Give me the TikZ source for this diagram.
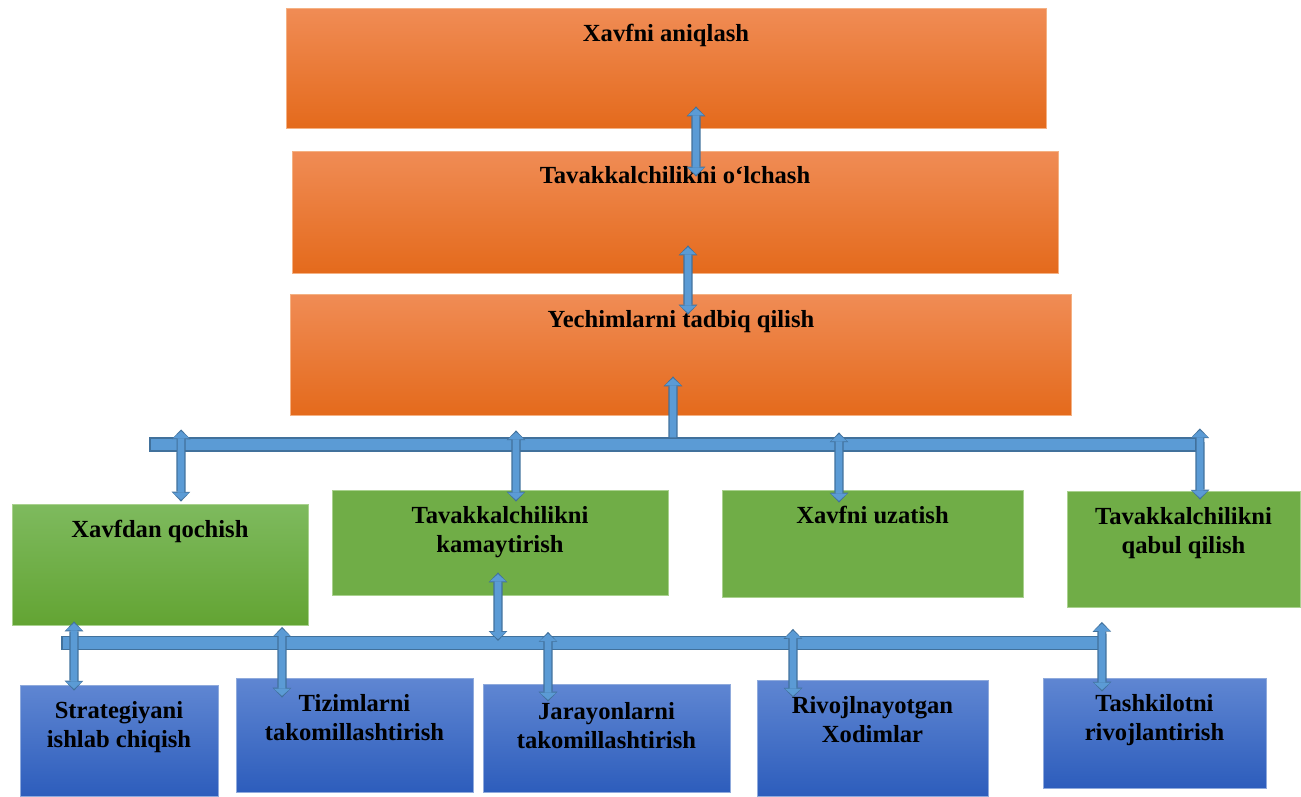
\documentclass[tikz,border=0pt]{standalone}
\usepackage{fontspec}
\setmainfont{Liberation Serif}
\usepackage{tikz}
\usetikzlibrary{arrows.meta,positioning}
\definecolor{orangetop}{HTML}{F08C55}
\definecolor{orangemid}{HTML}{F47B2A}
\definecolor{orangebot}{HTML}{E46A1C}
\definecolor{orangeline}{HTML}{F4B183}
\definecolor{leafgreen}{HTML}{70AD47}
\definecolor{leaftop}{HTML}{7EBA5E}
\definecolor{leafbot}{HTML}{63A433}
\definecolor{leafline}{HTML}{A9D18E}
\definecolor{navytop}{HTML}{5F86D2}
\definecolor{navybot}{HTML}{2D5DBC}
\definecolor{navyline}{HTML}{8FAADC}
\definecolor{arrowfill}{HTML}{5B9BD5}
\definecolor{arrowedge}{HTML}{41719C}
\tikzset{
  orangebox/.style={
    rectangle, draw=orangeline, line width=0.5pt,
    top color=orangetop, middle color=orangemid, bottom color=orangebot,
    inner sep=0pt
  },
  greenbox/.style={
    rectangle, draw=leafline, line width=0.5pt, fill=leafgreen,
    inner sep=0pt
  },
  greenshade/.style={
    rectangle, draw=leafline, line width=0.5pt,
    top color=leaftop, bottom color=leafbot,
    inner sep=0pt
  },
  bluebox/.style={
    rectangle, draw=navyline, line width=0.5pt,
    top color=navytop, bottom color=navybot,
    inner sep=0pt
  },
  busbar/.style={
    rectangle, draw=arrowedge, fill=arrowfill, line width=0.7pt,
    minimum height=0.26cm, inner sep=0pt
  },
  boxtext/.style={
    font=\fontsize{14}{17}\selectfont\bfseries, align=center,
    inner sep=0pt
  },
  fatboth/.style={
    preaction={draw=arrowedge, line width=5.2pt, shorten <=0pt, shorten >=0pt,
      {Triangle[length=5.6pt,width=10.6pt,line width=0pt]}-{Triangle[length=5.6pt,width=10.6pt,line width=0pt]}},
    draw=arrowfill, line width=3.8pt, shorten <=1pt, shorten >=1pt,
    {Triangle[length=4.1pt,width=9.2pt,line width=0pt]}-{Triangle[length=4.1pt,width=9.2pt,line width=0pt]}
  },
  fatone/.style={
    preaction={draw=arrowedge, line width=5.2pt, shorten <=0pt, shorten >=0pt,
      -{Triangle[length=5.6pt,width=10.6pt,line width=0pt]}},
    draw=arrowfill, line width=3.8pt, shorten <=0pt, shorten >=1pt,
    -{Triangle[length=4.1pt,width=9.2pt,line width=0pt]}
  },
}
\begin{document}
\begin{tikzpicture}[x=0.02cm, y=-0.02cm]
  \useasboundingbox (0,0) rectangle (1301,796);

  % Stages
  \node[orangebox, minimum width=15.2cm, minimum height=2.4cm] (aniq) at (666,68) {};
  \node[orangebox, minimum width=15.32cm, minimum height=2.44cm] (olch) at (675,212) {};
  \node[orangebox, minimum width=15.64cm, minimum height=2.42cm] (tadb) at (681,354.5) {};
  \node[boxtext, below=0.32cm of aniq.north] (aniq_t) {Xavfni aniqlash};
  \node[boxtext, below=0.32cm of olch.north] (olch_t) {Tavakkalchilikni o‘lchash};
  \node[boxtext, below=0.32cm of tadb.north] (tadb_t) {Yechimlarni tadbiq qilish};

  % Responses
  \node[greenshade, minimum width=5.92cm, minimum height=2.42cm] (qoch) at (160,564.5) {};
  \node[greenbox, minimum width=6.72cm, minimum height=2.1cm] (kama) at (500,542.5) {};
  \node[greenbox, minimum width=6.02cm, minimum height=2.14cm] (uzat) at (872.5,543.5) {};
  \node[greenbox, minimum width=4.66cm, minimum height=2.32cm] (qabu) at (1183.5,549) {};
  \node[boxtext, below=0.32cm of qoch.north] (qoch_t) {Xavfdan qochish};
  \node[boxtext, below=0.32cm of kama.north] (kama_t) {Tavakkalchilikni\\kamaytirish};
  \node[boxtext, below=0.32cm of uzat.north] (uzat_t) {Xavfni uzatish};
  \node[boxtext, below=0.32cm of qabu.north] (qabu_t) {Tavakkalchilikni\\qabul qilish};

  % Measures
  \node[bluebox, minimum width=3.96cm, minimum height=2.22cm] (stra) at (119,740.5) {};
  \node[bluebox, minimum width=4.74cm, minimum height=2.28cm] (tizi) at (354.5,735) {};
  \node[bluebox, minimum width=4.94cm, minimum height=2.16cm] (jara) at (606.5,738) {};
  \node[bluebox, minimum width=4.62cm, minimum height=2.32cm] (xodi) at (872.5,738) {};
  \node[bluebox, minimum width=4.46cm, minimum height=2.2cm] (tash) at (1154.5,733) {};
  \node[boxtext, below=0.32cm of stra.north] (stra_t) {Strategiyani\\ishlab chiqish};
  \node[boxtext, below=0.32cm of tizi.north] (tizi_t) {Tizimlarni\\takomillashtirish};
  \node[boxtext, below=0.36cm of jara.north] (jara_t) {Jarayonlarni\\takomillashtirish};
  \node[boxtext, below=0.32cm of xodi.north] (xodi_t) {Rivojlnayotgan\\Xodimlar};
  \node[boxtext, below=0.32cm of tash.north] (tash_t) {Tashkilotni\\rivojlantirish};

  % Buses
  \node[busbar, minimum width=20.92cm] (bus1) at (673,444.5) {};
  \node[busbar, minimum width=20.76cm] (bus2) at (581,643) {};

  % Arrows
  \draw[fatboth] ([xshift=0.6cm,yshift=0.44cm]aniq.south) -- ([xshift=0.42cm,yshift=-0.52cm]olch.north);
  \draw[fatboth] ([xshift=0.26cm,yshift=0.56cm]olch.south) -- ([xshift=0.14cm,yshift=-0.42cm]tadb.north);
  \draw[fatone] (bus1.north) -- ([xshift=-0.16cm,yshift=0.78cm]tadb.south);
  \draw[fatboth] ([xshift=-9.84cm,yshift=0.16cm]bus1.north) -- ([xshift=0.42cm,yshift=0.04cm]qoch.north);
  \draw[fatboth] ([xshift=-3.14cm,yshift=0.14cm]bus1.north) -- ([xshift=0.32cm,yshift=-0.24cm]kama.north);
  \draw[fatboth] ([xshift=3.32cm,yshift=0.1cm]bus1.north) -- ([xshift=-0.67cm,yshift=-0.26cm]uzat.north);
  \draw[fatboth] ([xshift=10.54cm,yshift=0.18cm]bus1.north) -- ([xshift=0.33cm,yshift=-0.18cm]qabu.north);
  \draw[fatboth] ([xshift=-0.04cm,yshift=0.46cm]kama.south) -- ([xshift=-1.66cm,yshift=-0.1cm]bus2.north);
  \draw[fatboth] ([xshift=-1.72cm,yshift=0.08cm]qoch.south) -- ([xshift=-0.9cm,yshift=-0.12cm]stra.north);
  \draw[fatboth] ([xshift=-5.98cm,yshift=0.18cm]bus2.north) -- ([xshift=-1.45cm,yshift=-0.4cm]tizi.north);
  \draw[fatboth] ([xshift=-0.66cm,yshift=0.08cm]bus2.north) -- ([xshift=-1.17cm,yshift=-0.36cm]jara.north);
  \draw[fatboth] ([xshift=4.24cm,yshift=0.14cm]bus2.north) -- ([xshift=-1.59cm,yshift=-0.36cm]xodi.north);
  \draw[fatboth] ([xshift=10.42cm,yshift=0.28cm]bus2.north) -- ([xshift=-1.05cm,yshift=-0.28cm]tash.north);
\end{tikzpicture}
\end{document}
